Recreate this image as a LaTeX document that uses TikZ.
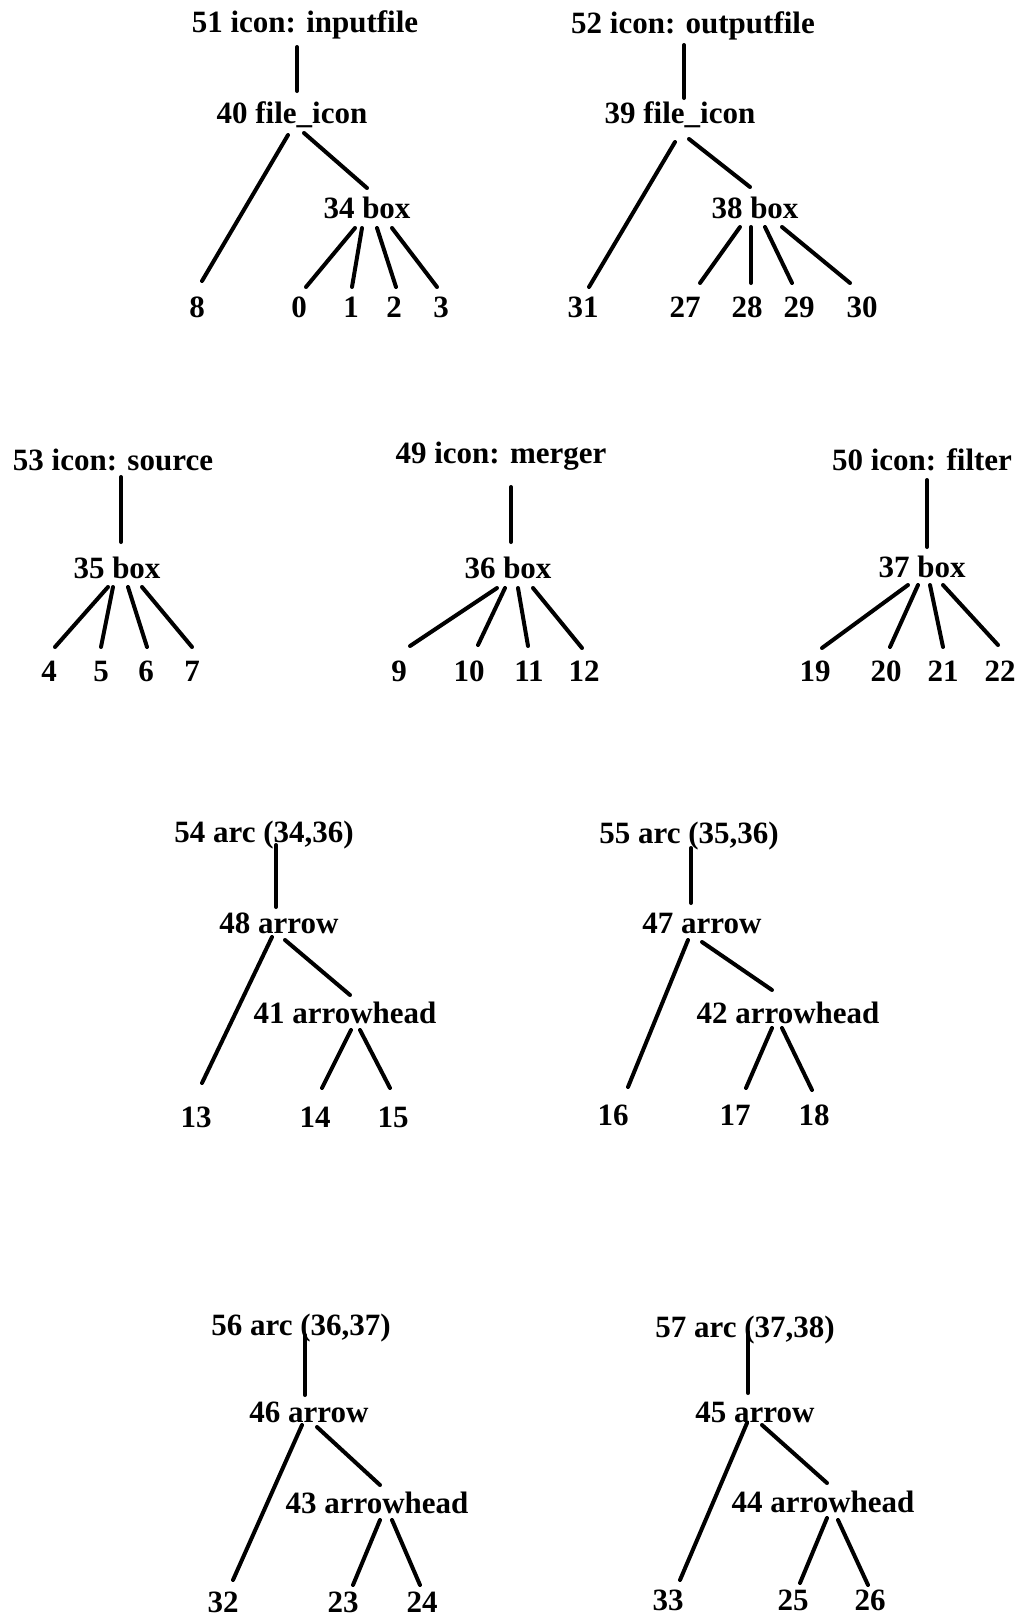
\documentclass[tikz,border=0pt]{standalone}
\usepackage{fontspec}
\setmainfont{Liberation Serif}
\usetikzlibrary{calc}
\tikzset{
  lbl/.style={anchor=base, inner sep=0pt, font=\fontsize{15.5}{18}\selectfont\bfseries},
  edge/.style={line width=2pt, line cap=round}
}
\newcommand\lnk[6]{\draw[edge] ($(#1.base)+(#2,#3)$) -- ($(#4.base)+(#5,#6)$);}
\begin{document}
\begin{tikzpicture}[x=0.5pt,y=-0.5pt]
\fill[white] (0,0) rectangle (1024,1617);
\useasboundingbox (0,0) rectangle (1024,1617);
% Tree 1
\node[lbl] (n51) at (305,32) {51 icon: inputfile};
\node[lbl] (n40) at (292,123) {40 file\_icon};
\node[lbl] (n34) at (367,218) {34 box};
\node[lbl] (n8) at (197,317) {8};
\node[lbl] (n0) at (299,317) {0};
\node[lbl] (n1) at (351,317) {1};
\node[lbl] (n2) at (394,317) {2};
\node[lbl] (n3) at (441,317) {3};
\lnk{n51}{-8}{15}{n40}{5}{-32}
\lnk{n40}{-4}{12}{n8}{5}{-36}
\lnk{n40}{12}{10}{n34}{0}{-30}
\lnk{n34}{-12}{10}{n0}{7}{-30}
\lnk{n34}{-5}{10}{n1}{1}{-30}
\lnk{n34}{10}{10}{n2}{2}{-30}
\lnk{n34}{25}{10}{n3}{-4}{-30}
% Tree 2
\node[lbl] (n52) at (693,33) {52 icon: outputfile};
\node[lbl] (n39) at (680,123) {39 file\_icon};
\node[lbl] (n38) at (755,218) {38 box};
\node[lbl] (n31) at (583,317) {31};
\node[lbl] (n27) at (685,317) {27};
\node[lbl] (n28) at (747,317) {28};
\node[lbl] (n29) at (799,317) {29};
\node[lbl] (n30) at (862,317) {30};
\lnk{n52}{-9}{12}{n39}{4}{-25}
\lnk{n39}{-5}{19}{n31}{6}{-30}
\lnk{n39}{9}{16}{n38}{-5}{-31}
\lnk{n38}{-15}{9}{n27}{15}{-34}
\lnk{n38}{-4}{9}{n28}{4}{-34}
\lnk{n38}{10}{9}{n29}{-7}{-34}
\lnk{n38}{27}{9}{n30}{-12}{-34}
% Tree 3
\node[lbl] (n53) at (113,470) {53 icon: source};
\node[lbl] (n35) at (117,578) {35 box};
\node[lbl] (n4) at (49,681) {4};
\node[lbl] (n5) at (101,681) {5};
\node[lbl] (n6) at (146,681) {6};
\node[lbl] (n7) at (192,681) {7};
\lnk{n53}{8}{7}{n35}{4}{-36}
\lnk{n35}{-9}{9}{n4}{6}{-34}
\lnk{n35}{-4}{9}{n5}{0}{-34}
\lnk{n35}{11}{9}{n6}{1}{-34}
\lnk{n35}{25}{9}{n7}{0}{-34}
% Tree 4
\node[lbl] (n49) at (501,463) {49 icon: merger};
\node[lbl] (n36) at (508,578) {36 box};
\node[lbl] (n9) at (399,681) {9};
\node[lbl] (n10) at (469,681) {10};
\node[lbl] (n11) at (529,681) {11};
\node[lbl] (n12) at (584,681) {12};
\lnk{n49}{10}{24}{n36}{3}{-36}
\lnk{n36}{-11}{10}{n9}{11}{-35}
\lnk{n36}{-3}{10}{n10}{9}{-36}
\lnk{n36}{10}{10}{n11}{-1}{-35}
\lnk{n36}{25}{10}{n12}{-2}{-33}
% Tree 5
\node[lbl] (n50) at (922,470) {50 icon: filter};
\node[lbl] (n37) at (922,577) {37 box};
\node[lbl] (n19) at (815,681) {19};
\node[lbl] (n20) at (886,681) {20};
\node[lbl] (n21) at (943,681) {21};
\node[lbl] (n22) at (1000,681) {22};
\lnk{n50}{5}{10}{n37}{5}{-30}
\lnk{n37}{-14}{8}{n19}{7}{-33}
\lnk{n37}{-4}{8}{n20}{4}{-34}
\lnk{n37}{8}{8}{n21}{0}{-34}
\lnk{n37}{21}{8}{n22}{-2}{-36}
% Tree 6
\node[lbl] (n54) at (264,842) {54 arc (34,36)};
\node[lbl] (n48) at (279,933) {48 arrow};
\node[lbl] (n41) at (345,1023) {41 arrowhead};
\node[lbl] (n13) at (196,1127) {13};
\node[lbl] (n14) at (315,1127) {14};
\node[lbl] (n15) at (393,1127) {15};
\lnk{n54}{12}{3}{n48}{-3}{-26}
\lnk{n48}{-7}{4}{n13}{6}{-44}
\lnk{n48}{6}{7}{n41}{5}{-28}
\lnk{n41}{6}{7}{n14}{7}{-39}
\lnk{n41}{15}{7}{n15}{-3}{-39}
% Tree 7
\node[lbl] (n55) at (689,843) {55 arc (35,36)};
\node[lbl] (n47) at (702,933) {47 arrow};
\node[lbl] (n42) at (788,1023) {42 arrowhead};
\node[lbl] (n16) at (613,1125) {16};
\node[lbl] (n17) at (735,1125) {17};
\node[lbl] (n18) at (814,1125) {18};
\lnk{n55}{2}{5}{n47}{-11}{-30}
\lnk{n47}{-14}{7}{n16}{15}{-38}
\lnk{n47}{0}{9}{n42}{-16}{-33}
\lnk{n42}{-16}{5}{n17}{11}{-37}
\lnk{n42}{-6}{5}{n18}{-2}{-35}
% Tree 8
\node[lbl] (n56) at (301,1335) {56 arc (36,37)};
\node[lbl] (n46) at (309,1422) {46 arrow};
\node[lbl] (n43) at (377,1513) {43 arrowhead};
\node[lbl] (n32) at (223,1612) {32};
\node[lbl] (n23) at (343,1612) {23};
\node[lbl] (n24) at (422,1612) {24};
\lnk{n56}{4}{0}{n46}{-4}{-27}
\lnk{n46}{-7}{3}{n32}{10}{-32}
\lnk{n46}{8}{5}{n43}{3}{-28}
\lnk{n43}{3}{7}{n23}{10}{-27}
\lnk{n43}{15}{7}{n24}{-2}{-27}
% Tree 9
\node[lbl] (n57) at (745,1337) {57 arc (37,38)};
\node[lbl] (n45) at (755,1422) {45 arrow};
\node[lbl] (n44) at (823,1512) {44 arrowhead};
\node[lbl] (n33) at (668,1610) {33};
\node[lbl] (n25) at (793,1610) {25};
\node[lbl] (n26) at (870,1610) {26};
\lnk{n57}{3}{-5}{n45}{-7}{-29}
\lnk{n45}{-8}{1}{n33}{12}{-30}
\lnk{n45}{7}{3}{n44}{4}{-29}
\lnk{n44}{4}{6}{n25}{7}{-27}
\lnk{n44}{15}{8}{n26}{-2}{-25}
\end{tikzpicture}
\end{document}
